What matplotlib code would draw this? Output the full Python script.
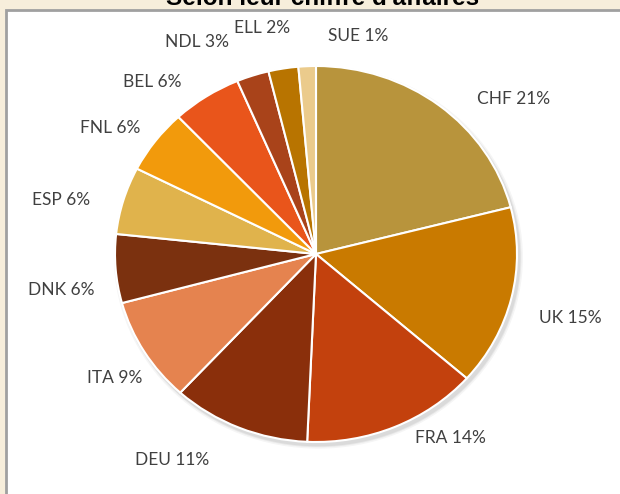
import numpy as np
import matplotlib.pyplot as plt
from matplotlib.patches import Rectangle, Ellipse

# Data
countries = ["CHF", "UK", "FRA", "DEU", "ITA", "DNK", "ESP", "FNL", "BEL", "NDL", "ELL", "SUE"]
shares = [21.0, 15.5, 14.2, 11.1, 9.0, 5.9, 5.8, 5.5, 5.6, 2.6, 2.4, 1.4]
pct_labels = [21, 15, 14, 11, 9, 6, 6, 6, 6, 3, 2, 1]
colors = ["#B8943C", "#C97A00", "#C3410D", "#8A2F0B", "#E5834F", "#7B310F",
          "#E0B34C", "#F29A0C", "#E9551B", "#A9431A", "#B87400", "#EBCB8C"]

# label placement (radius factor, angle in degrees) in pie units
label_r = [1.28, 1.31, 1.185, 1.31, 1.20, 1.28, 1.30, 1.225, 1.225, 1.275, 1.23, 1.18]
label_ang = [40, -15, -55.7, -123.2, -146.6, -171.4, 167.2, 146.8, 131.7, 117.7, 102.6, 79.8]

W, H = 620, 494
cx, cy = 316, 254      # pie centre in pixels (from top)
rx, ry = 201, 188      # pie radii in pixels

fig = plt.figure(figsize=(W / 100, H / 100), dpi=100)
fig.patch.set_facecolor("#F7EEDB")

fig.text(323 / W, 1 - 5 / H, "Selon leur chiffre d'affaires", ha="center", va="baseline",
         fontsize=17.5, fontweight="bold", family="Liberation Sans", color="black")

ax = fig.add_axes([0, 0, 1, 1])

# white panel with grey border
ax.add_patch(Rectangle((6 / W, -0.01), 1.0, 1.01 - 10 / H, transform=fig.transFigure,
                       facecolor="white", edgecolor="#A0A0A0", linewidth=2, zorder=0))

# soft shadow
for d, a in [(0.035, 0.04), (0.02, 0.05), (0.01, 0.06)]:
    ax.add_patch(Ellipse((0.012, -0.018), 2 + d, 2 + d,
                         facecolor="black", alpha=a, edgecolor="none", zorder=1))

wedges, _ = ax.pie(shares, colors=colors, startangle=90, counterclock=False,
                   wedgeprops=dict(edgecolor="white", linewidth=1.5, zorder=2),
                   frame=True)
ax.set_aspect("auto")
ax.set_xlim(-cx / rx, (W - cx) / rx)
ax.set_ylim((cy - H) / ry, cy / ry)
ax.axis("off")

for name, p, r, a in zip(countries, pct_labels, label_r, label_ang):
    t = np.deg2rad(a)
    ax.text(r * np.cos(t), r * np.sin(t), f"{name} {p}%", ha="center", va="center",
            fontsize=12.5, family="Lato", color="#404040", zorder=3)

fig.savefig("out.png", dpi=100, facecolor=fig.get_facecolor())
